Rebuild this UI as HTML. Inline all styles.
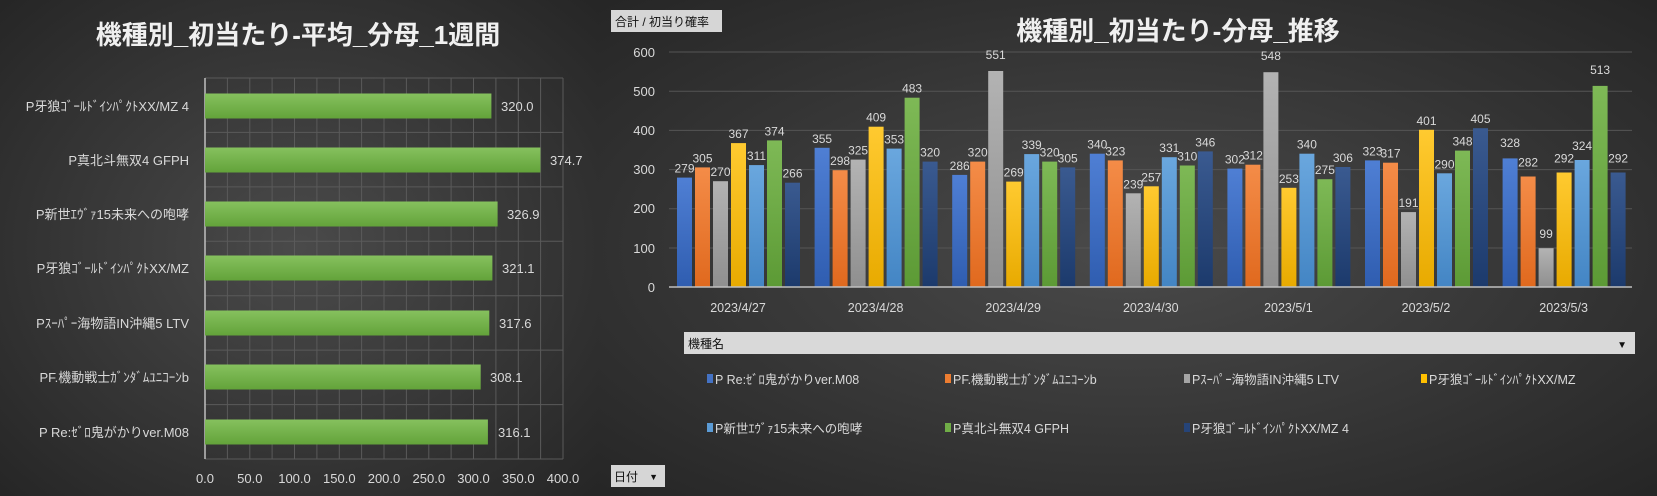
<!DOCTYPE html>
<html><head><meta charset="utf-8"><style>
html,body{margin:0;padding:0;width:1657px;height:496px;overflow:hidden;background:#2a2a2a}
svg{display:block}
text{font-family:"Liberation Sans","Noto Sans CJK JP",sans-serif}
</style></head><body>
<svg width="1657" height="496" xmlns="http://www.w3.org/2000/svg">
<defs>
<radialGradient id="bgL" cx="50%" cy="50%" r="70%"><stop offset="0" stop-color="#4a4a4a"/><stop offset="1" stop-color="#262626"/></radialGradient>
<radialGradient id="bgR" cx="50%" cy="50%" r="70%"><stop offset="0" stop-color="#4a4a4a"/><stop offset="1" stop-color="#262626"/></radialGradient>
<linearGradient id="gH" x1="0" y1="0" x2="0" y2="1"><stop offset="0" stop-color="#86c15e"/><stop offset="1" stop-color="#63a33a"/></linearGradient>
<linearGradient id="c0" x1="0" y1="0" x2="0" y2="1"><stop offset="0" stop-color="#4f7fd4"/><stop offset="1" stop-color="#2f5db0"/></linearGradient>
<linearGradient id="c1" x1="0" y1="0" x2="0" y2="1"><stop offset="0" stop-color="#f48c48"/><stop offset="1" stop-color="#e0691e"/></linearGradient>
<linearGradient id="c2" x1="0" y1="0" x2="0" y2="1"><stop offset="0" stop-color="#b3b3b3"/><stop offset="1" stop-color="#8f8f8f"/></linearGradient>
<linearGradient id="c3" x1="0" y1="0" x2="0" y2="1"><stop offset="0" stop-color="#ffca30"/><stop offset="1" stop-color="#e8aa00"/></linearGradient>
<linearGradient id="c4" x1="0" y1="0" x2="0" y2="1"><stop offset="0" stop-color="#6aa7de"/><stop offset="1" stop-color="#4385c4"/></linearGradient>
<linearGradient id="c5" x1="0" y1="0" x2="0" y2="1"><stop offset="0" stop-color="#7eb956"/><stop offset="1" stop-color="#5c9a35"/></linearGradient>
<linearGradient id="c6" x1="0" y1="0" x2="0" y2="1"><stop offset="0" stop-color="#3a5a90"/><stop offset="1" stop-color="#1c3a6c"/></linearGradient>
</defs>
<rect x="0" y="0" width="598" height="496" fill="url(#bgL)"/>
<rect x="598" y="0" width="1059" height="496" fill="url(#bgR)"/>

<!-- LEFT CHART -->
<text x="298" y="44" text-anchor="middle" font-size="26" font-weight="bold" fill="#f0f0f0">機種別_初当たり-平均_分母_1週間</text>
<g stroke="#5a5a5a" stroke-width="1">
<line x1="227.4" y1="78" x2="227.4" y2="459"/><line x1="249.8" y1="78" x2="249.8" y2="459"/><line x1="272.1" y1="78" x2="272.1" y2="459"/><line x1="294.5" y1="78" x2="294.5" y2="459"/><line x1="316.9" y1="78" x2="316.9" y2="459"/><line x1="339.3" y1="78" x2="339.3" y2="459"/><line x1="361.6" y1="78" x2="361.6" y2="459"/><line x1="384" y1="78" x2="384" y2="459"/><line x1="406.4" y1="78" x2="406.4" y2="459"/><line x1="428.8" y1="78" x2="428.8" y2="459"/><line x1="451.1" y1="78" x2="451.1" y2="459"/><line x1="473.5" y1="78" x2="473.5" y2="459"/><line x1="495.9" y1="78" x2="495.9" y2="459"/><line x1="518.3" y1="78" x2="518.3" y2="459"/><line x1="540.6" y1="78" x2="540.6" y2="459"/><line x1="563" y1="78" x2="563" y2="459"/>
<line x1="205" y1="78" x2="563" y2="78"/><line x1="205" y1="132.4" x2="563" y2="132.4"/><line x1="205" y1="186.9" x2="563" y2="186.9"/><line x1="205" y1="241.3" x2="563" y2="241.3"/><line x1="205" y1="295.7" x2="563" y2="295.7"/><line x1="205" y1="350.1" x2="563" y2="350.1"/><line x1="205" y1="404.6" x2="563" y2="404.6"/><line x1="205" y1="459" x2="563" y2="459"/>
</g>
<line x1="205" y1="78" x2="205" y2="459" stroke="#bfbfbf" stroke-width="1.5"/>
<g fill="url(#gH)">
<rect x="205" y="93.5" width="286.4" height="25"/>
<rect x="205" y="147.5" width="335.4" height="25"/>
<rect x="205" y="201.5" width="292.6" height="25"/>
<rect x="205" y="255.5" width="287.4" height="25"/>
<rect x="205" y="310.5" width="284.3" height="25"/>
<rect x="205" y="364.5" width="275.7" height="25"/>
<rect x="205" y="419.5" width="282.9" height="25"/>
</g>
<g font-size="13" fill="#d9d9d9">
<text x="501" y="111">320.0</text>
<text x="550" y="165">374.7</text>
<text x="507" y="219">326.9</text>
<text x="502" y="273">321.1</text>
<text x="499" y="328">317.6</text>
<text x="490" y="382">308.1</text>
<text x="498" y="437">316.1</text>
</g>
<g font-size="13" fill="#d9d9d9" text-anchor="end">
<text x="189" y="111">P牙狼ｺﾞｰﾙﾄﾞｲﾝﾊﾟｸﾄXX/MZ 4</text>
<text x="189" y="165">P真北斗無双4 GFPH</text>
<text x="189" y="219">P新世ｴｳﾞｧ15未来への咆哮</text>
<text x="189" y="273">P牙狼ｺﾞｰﾙﾄﾞｲﾝﾊﾟｸﾄXX/MZ</text>
<text x="189" y="328">Pｽｰﾊﾟｰ海物語IN沖縄5 LTV</text>
<text x="189" y="382">PF.機動戦士ｶﾞﾝﾀﾞﾑﾕﾆｺｰﾝb</text>
<text x="189" y="437">P Re:ｾﾞﾛ鬼がかりver.M08</text>
</g>
<g font-size="13" fill="#d9d9d9" text-anchor="middle">
<text x="205" y="483">0.0</text><text x="249.8" y="483">50.0</text><text x="294.5" y="483">100.0</text><text x="339.3" y="483">150.0</text><text x="384" y="483">200.0</text><text x="428.8" y="483">250.0</text><text x="473.5" y="483">300.0</text><text x="518.3" y="483">350.0</text><text x="563" y="483">400.0</text>
</g>

<!-- RIGHT CHART -->
<rect x="611" y="10" width="111" height="22" fill="#d6d6d6"/>
<text x="615" y="26" font-size="12" fill="#111">合計 / 初当り確率</text>
<text x="1178" y="40" text-anchor="middle" font-size="26" font-weight="bold" fill="#f0f0f0">機種別_初当たり-分母_推移</text>
<g stroke="#555" stroke-width="1">
<line x1="669" y1="52" x2="1632" y2="52"/><line x1="669" y1="91.2" x2="1632" y2="91.2"/><line x1="669" y1="130.4" x2="1632" y2="130.4"/><line x1="669" y1="169.6" x2="1632" y2="169.6"/><line x1="669" y1="208.8" x2="1632" y2="208.8"/><line x1="669" y1="248" x2="1632" y2="248"/>
</g>
<g font-size="13" fill="#d9d9d9" text-anchor="end">
<text x="655" y="57">600</text><text x="655" y="96">500</text><text x="655" y="135">400</text><text x="655" y="174">300</text><text x="655" y="213">200</text><text x="655" y="253">100</text><text x="655" y="292">0</text>
</g>
<g font-size="12.5" fill="#d9d9d9" text-anchor="middle">
<text x="738" y="312">2023/4/27</text><text x="875.6" y="312">2023/4/28</text><text x="1013.2" y="312">2023/4/29</text><text x="1150.8" y="312">2023/4/30</text><text x="1288.4" y="312">2023/5/1</text><text x="1426" y="312">2023/5/2</text><text x="1563.6" y="312">2023/5/3</text>
</g>

<g transform="translate(677,0)">
<rect x="0" y="177.6" width="15" height="109.4" fill="url(#c0)"/><rect x="18" y="167.4" width="15" height="119.6" fill="url(#c1)"/><rect x="36" y="181.2" width="15" height="105.8" fill="url(#c2)"/><rect x="54" y="143.1" width="15" height="143.9" fill="url(#c3)"/><rect x="72" y="165.1" width="15" height="121.9" fill="url(#c4)"/><rect x="90" y="140.4" width="15" height="146.6" fill="url(#c5)"/><rect x="108" y="182.7" width="15" height="104.3" fill="url(#c6)"/>
<g font-size="12" fill="#d9d9d9" text-anchor="middle"><text x="7.5" y="172.6">279</text><text x="25.5" y="162.4">305</text><text x="43.5" y="176.2">270</text><text x="61.5" y="138.1">367</text><text x="79.5" y="160.1">311</text><text x="97.5" y="135.4">374</text><text x="115.5" y="177.7">266</text></g>
</g>
<g transform="translate(814.6,0)">
<rect x="0" y="147.8" width="15" height="139.2" fill="url(#c0)"/><rect x="18" y="170.2" width="15" height="116.8" fill="url(#c1)"/><rect x="36" y="159.6" width="15" height="127.4" fill="url(#c2)"/><rect x="54" y="126.7" width="15" height="160.3" fill="url(#c3)"/><rect x="72" y="148.6" width="15" height="138.4" fill="url(#c4)"/><rect x="90" y="97.7" width="15" height="189.3" fill="url(#c5)"/><rect x="108" y="161.6" width="15" height="125.4" fill="url(#c6)"/>
<g font-size="12" fill="#d9d9d9" text-anchor="middle"><text x="7.5" y="142.8">355</text><text x="25.5" y="165.2">298</text><text x="43.5" y="154.6">325</text><text x="61.5" y="121.7">409</text><text x="79.5" y="143.6">353</text><text x="97.5" y="92.7">483</text><text x="115.5" y="156.6">320</text></g>
</g>
<g transform="translate(952.2,0)">
<rect x="0" y="174.9" width="15" height="112.1" fill="url(#c0)"/><rect x="18" y="161.6" width="15" height="125.4" fill="url(#c1)"/><rect x="36" y="71" width="15" height="216" fill="url(#c2)"/><rect x="54" y="181.6" width="15" height="105.4" fill="url(#c3)"/><rect x="72" y="154.1" width="15" height="132.9" fill="url(#c4)"/><rect x="90" y="161.6" width="15" height="125.4" fill="url(#c5)"/><rect x="108" y="167.4" width="15" height="119.6" fill="url(#c6)"/>
<g font-size="12" fill="#d9d9d9" text-anchor="middle"><text x="7.5" y="169.9">286</text><text x="25.5" y="156.6">320</text><text x="43.5" y="59">551</text><text x="61.5" y="176.6">269</text><text x="79.5" y="149.1">339</text><text x="97.5" y="156.6">320</text><text x="115.5" y="162.4">305</text></g>
</g>
<g transform="translate(1089.8,0)">
<rect x="0" y="153.7" width="15" height="133.3" fill="url(#c0)"/><rect x="18" y="160.4" width="15" height="126.6" fill="url(#c1)"/><rect x="36" y="193.3" width="15" height="93.7" fill="url(#c2)"/><rect x="54" y="186.3" width="15" height="100.7" fill="url(#c3)"/><rect x="72" y="157.2" width="15" height="129.8" fill="url(#c4)"/><rect x="90" y="165.5" width="15" height="121.5" fill="url(#c5)"/><rect x="108" y="151.4" width="15" height="135.6" fill="url(#c6)"/>
<g font-size="12" fill="#d9d9d9" text-anchor="middle"><text x="7.5" y="148.7">340</text><text x="25.5" y="155.4">323</text><text x="43.5" y="188.3">239</text><text x="61.5" y="181.3">257</text><text x="79.5" y="152.2">331</text><text x="97.5" y="160.5">310</text><text x="115.5" y="146.4">346</text></g>
</g>
<g transform="translate(1227.4,0)">
<rect x="0" y="168.6" width="15" height="118.4" fill="url(#c0)"/><rect x="18" y="164.7" width="15" height="122.3" fill="url(#c1)"/><rect x="36" y="72.2" width="15" height="214.8" fill="url(#c2)"/><rect x="54" y="187.8" width="15" height="99.2" fill="url(#c3)"/><rect x="72" y="153.7" width="15" height="133.3" fill="url(#c4)"/><rect x="90" y="179.2" width="15" height="107.8" fill="url(#c5)"/><rect x="108" y="167" width="15" height="120" fill="url(#c6)"/>
<g font-size="12" fill="#d9d9d9" text-anchor="middle"><text x="7.5" y="163.6">302</text><text x="25.5" y="159.7">312</text><text x="43.5" y="60">548</text><text x="61.5" y="182.8">253</text><text x="79.5" y="148.7">340</text><text x="97.5" y="174.2">275</text><text x="115.5" y="162">306</text></g>
</g>
<g transform="translate(1365,0)">
<rect x="0" y="160.4" width="15" height="126.6" fill="url(#c0)"/><rect x="18" y="162.7" width="15" height="124.3" fill="url(#c1)"/><rect x="36" y="212.1" width="15" height="74.9" fill="url(#c2)"/><rect x="54" y="129.8" width="15" height="157.2" fill="url(#c3)"/><rect x="72" y="173.3" width="15" height="113.7" fill="url(#c4)"/><rect x="90" y="150.6" width="15" height="136.4" fill="url(#c5)"/><rect x="108" y="128.2" width="15" height="158.8" fill="url(#c6)"/>
<g font-size="12" fill="#d9d9d9" text-anchor="middle"><text x="7.5" y="155.4">323</text><text x="25.5" y="157.7">317</text><text x="43.5" y="207.1">191</text><text x="61.5" y="124.8">401</text><text x="79.5" y="168.3">290</text><text x="97.5" y="145.6">348</text><text x="115.5" y="123.2">405</text></g>
</g>
<g transform="translate(1502.6,0)">
<rect x="0" y="158.4" width="15" height="128.6" fill="url(#c0)"/><rect x="18" y="176.5" width="15" height="110.5" fill="url(#c1)"/><rect x="36" y="248.2" width="15" height="38.8" fill="url(#c2)"/><rect x="54" y="172.5" width="15" height="114.5" fill="url(#c3)"/><rect x="72" y="160" width="15" height="127" fill="url(#c4)"/><rect x="90" y="85.9" width="15" height="201.1" fill="url(#c5)"/><rect x="108" y="172.5" width="15" height="114.5" fill="url(#c6)"/>
<g font-size="12" fill="#d9d9d9" text-anchor="middle"><text x="7.5" y="147">328</text><text x="25.5" y="166.5">282</text><text x="43.5" y="238">99</text><text x="61.5" y="162.5">292</text><text x="79.5" y="150">324</text><text x="97.5" y="74">513</text><text x="115.5" y="162.5">292</text></g>
</g>
<line x1="669" y1="287" x2="1632" y2="287" stroke="#bfbfbf" stroke-width="1.5"/>

<rect x="684" y="332" width="951" height="22" fill="#d9d9d9"/>
<text x="688" y="348" font-size="12" fill="#111">機種名</text>
<text x="1627" y="348" font-size="10" fill="#111" text-anchor="end">▼</text>

<g font-size="12.5" fill="#d9d9d9">
<rect x="707" y="374" width="6" height="9" fill="#4472c4"/><text x="715" y="384">P Re:ｾﾞﾛ鬼がかりver.M08</text>
<rect x="945" y="374" width="6" height="9" fill="#ed7d31"/><text x="953" y="384">PF.機動戦士ｶﾞﾝﾀﾞﾑﾕﾆｺｰﾝb</text>
<rect x="1184" y="374" width="6" height="9" fill="#a5a5a5"/><text x="1192" y="384">Pｽｰﾊﾟｰ海物語IN沖縄5 LTV</text>
<rect x="1421" y="374" width="6" height="9" fill="#ffc000"/><text x="1429" y="384">P牙狼ｺﾞｰﾙﾄﾞｲﾝﾊﾟｸﾄXX/MZ</text>
<rect x="707" y="423" width="6" height="9" fill="#5b9bd5"/><text x="715" y="433">P新世ｴｳﾞｧ15未来への咆哮</text>
<rect x="945" y="423" width="6" height="9" fill="#70ad47"/><text x="953" y="433">P真北斗無双4 GFPH</text>
<rect x="1184" y="423" width="6" height="9" fill="#264478"/><text x="1192" y="433">P牙狼ｺﾞｰﾙﾄﾞｲﾝﾊﾟｸﾄXX/MZ 4</text>
</g>

<rect x="611" y="465" width="54" height="22" fill="#d6d6d6"/>
<text x="614" y="481" font-size="12" fill="#111">日付</text>
<text x="658" y="480" font-size="9" fill="#111" text-anchor="end">▼</text>
</svg>
</body></html>
